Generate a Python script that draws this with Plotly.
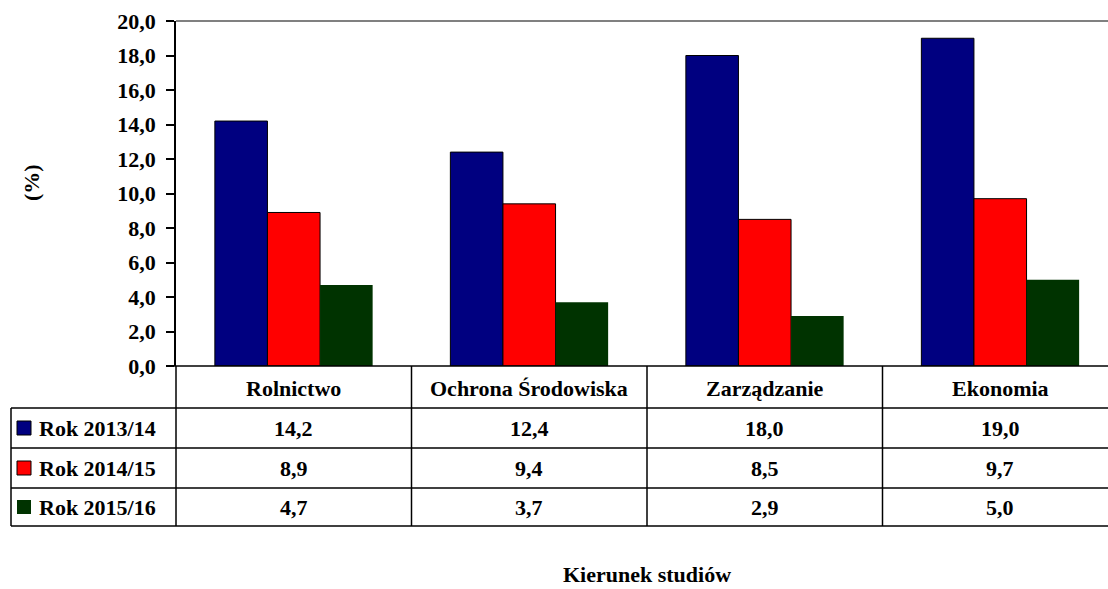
import plotly.graph_objects as go

categories = ["Rolnictwo", "Ochrona Środowiska", "Zarządzanie", "Ekonomia"]
series_names = ["Rok 2013/14", "Rok 2014/15", "Rok 2015/16"]
v2013 = [14.2, 12.4, 18.0, 19.0]
v2014 = [8.9, 9.4, 8.5, 9.7]
v2015 = [4.7, 3.7, 2.9, 5.0]
y_ticks = [0, 2, 4, 6, 8, 10, 12, 14, 16, 18, 20]
y_title = "(%)"
x_title = "Kierunek studiów"

series_values = [v2013, v2014, v2015]
colors = ["#000080", "#FF0000", "#003300"]
outlines = [1, 1, 0]

W, H = 1108, 589
L, T, B = 176, 21, 223
PW = W - L
PH = H - T - B
Y0 = H - B  # pixel y of value 0
CATW = 235.5

FONT = "Times New Roman, Liberation Serif, serif"

def px_x(p):
    return (p - L) / PW

def px_y(p):
    return (Y0 - p) / PH

def bfont(size=22):
    return dict(family=FONT, size=size, color="black", weight="bold")

xpos = list(range(len(categories)))

fig = go.Figure()
for name, vals, c, lw in zip(series_names, series_values, colors, outlines):
    fig.add_trace(go.Bar(
        x=xpos, y=vals, name=name,
        marker=dict(color=c, line=dict(color="black", width=lw)),
        showlegend=False, hoverinfo="skip",
    ))

x_end = -0.5 + PW / CATW

fig.update_layout(
    width=W, height=H,
    margin=dict(l=L, r=0, t=T, b=B, pad=0),
    paper_bgcolor="white", plot_bgcolor="white",
    barmode="group", bargap=0.33, bargroupgap=0,
    separators=",.",
    font=bfont(22),
    xaxis=dict(range=[-0.5, x_end], showticklabels=False, ticks="",
               showgrid=False, zeroline=False, showline=False, fixedrange=True),
    yaxis=dict(range=[0, 20], tickvals=y_ticks, tickformat=".1f",
               ticks="outside", ticklen=8, tickwidth=1.5, tickcolor="black",
               showline=True, linecolor="black", linewidth=1.5,
               showgrid=False, zeroline=False, ticklabelstandoff=6,
               tickfont=bfont(22), fixedrange=True),
)

shapes = []
# plot-area top border (gray)
shapes.append(dict(type="line", xref="paper", yref="paper", x0=0, x1=1.05, y0=1, y1=1,
                   line=dict(color="#808080", width=2)))
# x-axis line / table top
shapes.append(dict(type="line", xref="paper", yref="paper", x0=px_x(168), x1=1.05,
                   y0=0, y1=0, line=dict(color="black", width=1.5)))
row_lines = [408, 448, 488, 526]
for r in row_lines:
    shapes.append(dict(type="line", xref="paper", yref="paper", x0=px_x(11), x1=1.05,
                       y0=px_y(r), y1=px_y(r), line=dict(color="black", width=1.5)))
# vertical lines
shapes.append(dict(type="line", xref="paper", yref="paper", x0=px_x(11), x1=px_x(11),
                   y0=px_y(408), y1=px_y(526), line=dict(color="black", width=1.5)))
shapes.append(dict(type="line", xref="paper", yref="paper", x0=0, x1=0,
                   y0=0, y1=px_y(526), line=dict(color="black", width=1.5)))
for i in range(1, len(categories)):
    shapes.append(dict(type="line", xref="x", yref="paper", x0=i - 0.5, x1=i - 0.5,
                       y0=0, y1=px_y(526), line=dict(color="black", width=1.5)))
# legend keys
row_centers = [428, 468, 507]
for rc, c, lw in zip(row_centers, colors, outlines):
    shapes.append(dict(type="rect", xref="paper", yref="paper",
                       x0=px_x(17), x1=px_x(31), y0=px_y(rc - 7), y1=px_y(rc + 7),
                       fillcolor=c, line=dict(color="black", width=lw)))

annotations = []
for i, cat in enumerate(categories):
    annotations.append(dict(x=i, y=px_y(388), xref="x", yref="paper", text=cat,
                            showarrow=False, xanchor="center", yanchor="middle",
                            font=bfont(22)))
for rc, name, vals in zip(row_centers, series_names, series_values):
    annotations.append(dict(x=px_x(37), y=px_y(rc), xref="paper", yref="paper", text=name,
                            showarrow=False, xanchor="left", yanchor="middle",
                            font=bfont(22)))
    for i, v in enumerate(vals):
        annotations.append(dict(x=i, y=px_y(rc), xref="x", yref="paper",
                                text=f"{v:.1f}".replace(".", ","),
                                showarrow=False, xanchor="center", yanchor="middle",
                                font=bfont(22)))
annotations.append(dict(x=px_x(32), y=px_y(183), xref="paper", yref="paper", text=y_title,
                        textangle=-90, showarrow=False, xanchor="center", yanchor="middle",
                        font=bfont(22)))
annotations.append(dict(x=px_x(647), y=px_y(588), xref="paper", yref="paper", text=x_title,
                        showarrow=False, xanchor="center", yanchor="bottom", borderpad=0,
                        font=bfont(22)))

fig.update_layout(shapes=shapes, annotations=annotations)
fig.write_html("out.html", config={"displayModeBar": False},
               post_script="document.body.style.margin='0';document.body.style.padding='0';")
